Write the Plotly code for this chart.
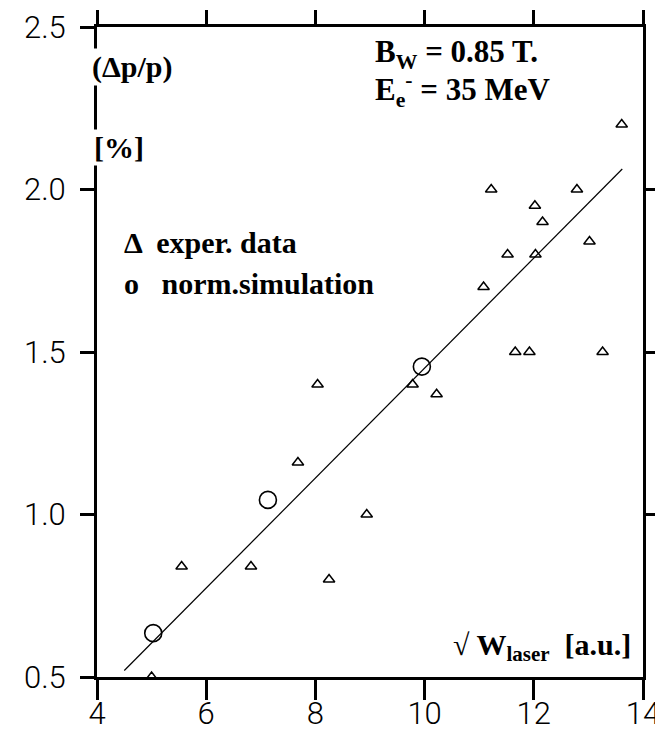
import plotly.graph_objects as go

# data
exp_x = [11.22, 12.79, 12.02, 12.16, 13.02, 11.52, 12.03, 11.08, 11.66, 11.92, 13.26, 13.61,
         8.04, 9.78, 10.22, 7.68, 8.94, 5.55, 6.82, 8.25, 5.0]
exp_y = [2.0, 2.0, 1.95, 1.9, 1.84, 1.8, 1.8, 1.7, 1.5, 1.5, 1.5, 2.2,
         1.4, 1.4, 1.37, 1.16, 1.0, 0.84, 0.84, 0.80, 0.5]
sim_x = [5.03, 7.13, 9.95]
sim_y = [0.635, 1.045, 1.455]
fit_x = [4.5, 13.62]
fit_y = [0.52, 2.063]

x_ticks = [4, 6, 8, 10, 12, 14]
y_ticks = [0.5, 1.0, 1.5, 2.0, 2.5]
y_ticks_right = [1.0, 1.5, 2.0]

fig = go.Figure()
fig.add_trace(go.Scatter(x=fit_x, y=fit_y, mode="lines",
                         line=dict(color="black", width=1.2), showlegend=False))
fig.add_trace(go.Scatter(x=exp_x, y=exp_y, mode="markers",
                         marker=dict(symbol="triangle-up-open", size=10, color="black",
                                     line=dict(width=1.5, color="black")),
                         showlegend=False))
fig.add_trace(go.Scatter(x=sim_x, y=sim_y, mode="markers",
                         marker=dict(symbol="circle-open", size=17, color="black",
                                     line=dict(width=1.6, color="black")),
                         showlegend=False))

tickfont = dict(family="Roboto", size=31, color="black", weight=300)
serif = dict(family="Liberation Serif", size=30, color="black", weight="bold")

common = dict(showgrid=False, zeroline=False, showline=True, linewidth=3, linecolor="black",
              ticks="outside", tickwidth=3, tickcolor="black", automargin=False)

fig.update_layout(
    width=655, height=733,
    margin=dict(l=97, r=12, t=27, b=56, autoexpand=False),
    paper_bgcolor="white", plot_bgcolor="white",
    xaxis=dict(range=[4, 14], tickvals=x_ticks, ticktext=[str(v) for v in x_ticks],
               ticklen=20, tickfont=tickfont, ticklabelstandoff=-13,
               ticklabeloverflow="allow", **common),
    yaxis=dict(range=[0.5, 2.5], tickvals=y_ticks, ticktext=[f"{v:.1f}" for v in y_ticks],
               ticklen=14, tickfont=tickfont, ticklabelstandoff=8,
               ticklabeloverflow="allow", **common),
    xaxis2=dict(range=[4, 14], overlaying="x", side="top", anchor="y", tickvals=x_ticks,
                showticklabels=False, ticklen=14, **common),
    yaxis2=dict(range=[0.5, 2.5], overlaying="y", side="right", anchor="x",
                tickvals=y_ticks_right, showticklabels=False, ticklen=14, **common),
)

fig.add_trace(go.Scatter(x=[None], y=[None], xaxis="x2", yaxis="y2", showlegend=False,
                         hoverinfo="skip"))

ann = [
    dict(text="(Δp/p)", x=-0.013, y=0.9385, xanchor="left", bgcolor="white"),
    dict(text="[%]", x=-0.009, y=0.815, xanchor="left", bgcolor="white"),
    dict(text="B<sub>W</sub> = 0.85 T.", x=0.5055, y=0.958, xanchor="left", size=31),
    dict(text="E<sub>e</sub><sup>-</sup> = 35 MeV", x=0.5055, y=0.903, xanchor="left", size=31),
    dict(text="Δ  exper. data", x=0.0458, y=0.668, xanchor="left"),
    dict(text="o   norm.simulation", x=0.0458, y=0.606, xanchor="left"),
    dict(text="√ W<sub>laser</sub>  [a.u.]", x=0.9817, y=0.046, xanchor="right"),
]
for a in ann:
    f = dict(serif)
    if "size" in a:
        f["size"] = a.pop("size")
    fig.add_annotation(xref="paper", yref="paper", showarrow=False, yanchor="middle",
                       font=f, borderpad=1, **a)

fig.write_html("out.html")
